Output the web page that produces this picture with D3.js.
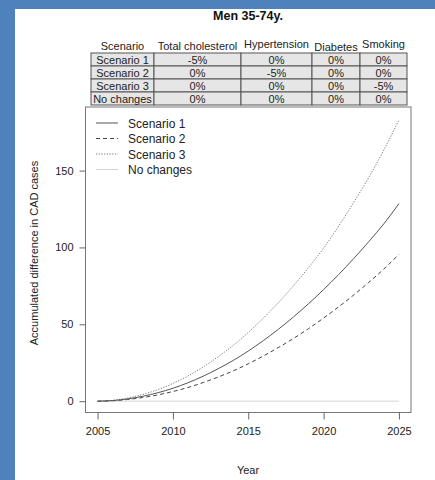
<!DOCTYPE html>
<html><head><meta charset="utf-8">
<script src="https://cdn.jsdelivr.net/npm/d3@7"></script>
<style>body{margin:0;padding:0;background:#fff}svg{display:block}</style>
</head><body>
<script>
const years = d3.range(2005, 2026);
const scenario1 = [0,0.4,1.5,3.2,5.5,8.4,12.0,16.2,21.1,26.5,32.6,39.4,46.8,54.8,63.4,72.6,82.4,92.8,103.8,115.4,128.5];
const scenario2 = [0,0.3,1.1,2.4,4.1,6.3,8.9,12.1,15.7,19.7,24.3,29.4,34.9,40.8,47.2,54.1,61.4,69.1,77.3,86.0,95.5];
const scenario3 = [0,0.55,2.05,4.4,7.5,11.5,16.4,22.2,28.9,36.3,44.7,54.0,64.1,75.1,86.9,99.5,113.9,129.3,145.6,163.4,183.0];
const noChanges = [0,0,0,0,0,0,0,0,0,0,0,0,0,0,0,0,0,0,0,0,0];
const seriesNames = ["Scenario 1","Scenario 2","Scenario 3","No changes"];
const tableHeader = ["Scenario","Total cholesterol","Hypertension","Diabetes","Smoking"];
const tableRows = [
  ["Scenario 1","-5%","0%","0%","0%"],
  ["Scenario 2","0%","-5%","0%","0%"],
  ["Scenario 3","0%","0%","0%","-5%"],
  ["No changes","0%","0%","0%","0%"]
];
const yTicks = [0,50,100,150];
const xTicks = [2005,2010,2015,2020,2025];

const W = 435, H = 480;
const font = "'Liberation Sans', Arial, sans-serif";
const svg = d3.select("body").append("svg").attr("width", W).attr("height", H)
  .style("font-family", font);

svg.append("rect").attr("width", W).attr("height", H).attr("fill", "#4f81bd");
svg.append("rect").attr("x", 15).attr("y", 9).attr("width", W - 15).attr("height", H - 9).attr("fill", "#fff");

// title
svg.append("text").attr("x", 248).attr("y", 20).attr("text-anchor", "middle")
  .attr("font-size", 12.5).attr("font-weight", "bold").attr("fill", "#111").text("Men 35-74y.");

// table
const colEdges = [91, 154, 241, 312, 360, 407];
const rowEdges = [53, 66, 79, 92, 105];
const hdrY = [50, 50, 48, 51, 48];
tableHeader.forEach((h, i) => {
  svg.append("text").attr("x", (colEdges[i] + colEdges[i+1]) / 2).attr("y", hdrY[i])
    .attr("text-anchor", "middle").attr("font-size", 11).attr("fill", "#222").text(h);
});
tableRows.forEach((row, r) => {
  row.forEach((c, i) => {
    svg.append("rect").attr("x", colEdges[i]).attr("y", rowEdges[r])
      .attr("width", colEdges[i+1] - colEdges[i]).attr("height", rowEdges[r+1] - rowEdges[r])
      .attr("fill", "#e6e6e6").attr("stroke", "#555").attr("stroke-width", 1);
    svg.append("text").attr("x", (colEdges[i] + colEdges[i+1]) / 2).attr("y", rowEdges[r] + 10.5)
      .attr("text-anchor", "middle").attr("font-size", 11).attr("fill", "#222").text(c);
  });
});

// plot
const pl = 85.5, pr = 411, pt = 107, pb = 412.5;
const x = d3.scaleLinear().domain([2004.2, 2025.8]).range([pl, pr]);
const y = d3.scaleLinear().domain([-7.36, 191.36]).range([pb, pt]);

const series = [
  {vals: scenario1, color: "#555", dash: null, w: 1},
  {vals: scenario2, color: "#444", dash: "4,3", w: 1},
  {vals: scenario3, color: "#777", dash: "1.2,1.5", w: 1},
  {vals: noChanges, color: "#d4d4d4", dash: null, w: 1}
];
const line = d3.line().x((d, i) => x(years[i])).y(d => y(d)).curve(d3.curveMonotoneX);
series.slice().reverse().forEach(s => {
  svg.append("path").datum(s.vals).attr("d", line).attr("fill", "none")
    .attr("stroke", s.color).attr("stroke-width", s.w)
    .attr("stroke-dasharray", s.dash);
});

svg.append("rect").attr("x", pl).attr("y", pt).attr("width", pr - pl).attr("height", pb - pt)
  .attr("fill", "none").attr("stroke", "#777").attr("stroke-width", 1);

// axes
const yAx = svg.append("g").attr("transform", `translate(${pl},0)`)
  .call(d3.axisLeft(y).tickValues(yTicks).tickSize(6).tickPadding(6).tickSizeOuter(0));
yAx.select(".domain").remove();
const xAx = svg.append("g").attr("transform", `translate(0,${pb})`)
  .call(d3.axisBottom(x).tickValues(xTicks).tickFormat(d3.format("d")).tickSize(7).tickPadding(8).tickSizeOuter(0));
xAx.select(".domain").remove();
[yAx, xAx].forEach(g => {
  g.selectAll("line").attr("stroke", "#666");
  g.selectAll("text").attr("font-size", 11).attr("fill", "#222").style("font-family", font);
});

svg.append("text").attr("x", 248).attr("y", 474).attr("text-anchor", "middle")
  .attr("font-size", 11).attr("fill", "#222").text("Year");
svg.append("text").attr("transform", "translate(38,253) rotate(-90)").attr("text-anchor", "middle")
  .attr("font-size", 11).attr("fill", "#222").text("Accumulated difference in CAD cases");

// legend
const legY = [123, 138.5, 154, 169.5];
series.forEach((s, i) => {
  svg.append("line").attr("x1", 96).attr("x2", 118).attr("y1", legY[i]).attr("y2", legY[i])
    .attr("stroke", s.color).attr("stroke-width", 1).attr("stroke-dasharray", s.dash);
  svg.append("text").attr("x", 128).attr("y", legY[i] + 4.5).attr("font-size", 12)
    .attr("fill", "#222").text(seriesNames[i]);
});
</script>
</body></html>
